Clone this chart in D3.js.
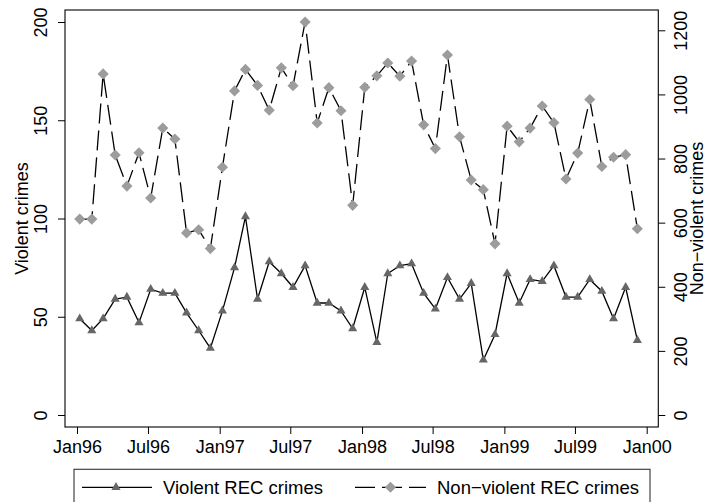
<!DOCTYPE html>
<html>
<head>
<meta charset="utf-8">
<script src="https://cdn.jsdelivr.net/npm/d3@7"></script>
<style>
  html, body { margin: 0; padding: 0; background: #fff; }
  svg { display: block; font-family: "Liberation Sans", Arial, Helvetica, sans-serif; }
</style>
</head>
<body>
<div id="chart"></div>
<script>
// ---- data (monthly, Jan 1996 – Dec 1999) ----
const violent = [49, 43, 49, 59, 60, 47, 64, 62, 62, 52, 43, 34,
                 53, 75, 101, 59, 78, 72, 65, 76, 57, 57, 53, 44,
                 65, 37, 72, 76, 77, 62, 54, 70, 59, 67, 28, 41,
                 72, 57, 69, 68, 76, 60, 60, 69, 63, 49, 65, 38];
const nonViolent = [611, 611, 1064, 811, 714, 818, 677, 895, 861, 568, 578, 519,
                    773, 1011, 1078, 1028, 951, 1083, 1027, 1226, 911, 1021, 949, 654,
                    1022, 1058, 1098, 1057, 1104, 905, 831, 1123, 868, 733, 703, 534,
                    901, 852, 895, 964, 912, 736, 817, 984, 775, 804, 812, 581];
const xTickLabels = ["Jan96", "Jul96", "Jan97", "Jul97", "Jan98", "Jul98", "Jan99", "Jul99", "Jan00"];
const leftTicks = [0, 50, 100, 150, 200];
const rightTicks = [0, 200, 400, 600, 800, 1000, 1200];
const seriesNames = ["Violent REC crimes", "Non\u2212violent REC crimes"];
const axisTitles = ["Violent crimes", "Non\u2212violent crimes"];

const dates = violent.map((_, i) => new Date(1996, i, 8));
const tickDates = xTickLabels.map((_, i) => new Date(1996, i * 6, 1));

const W = 707, H = 502;
const frame = { left: 65, right: 658.3, top: 10, bottom: 427 };

const x = d3.scaleTime().domain([new Date(1996, 0, 1), new Date(2000, 0, 1)]).range([77, 646.7]);
const yL = d3.scaleLinear().domain([0, 200]).range([415, 22]);
const yR = d3.scaleLinear().domain([0, 1200]).range([415, 30.3]);

const svg = d3.select("#chart").append("svg").attr("width", W).attr("height", H);
svg.append("rect").attr("width", W).attr("height", H).attr("fill", "#fff");

const FS = 18;

// frame
svg.append("rect")
  .attr("x", frame.left).attr("y", frame.top)
  .attr("width", frame.right - frame.left).attr("height", frame.bottom - frame.top)
  .attr("fill", "none").attr("stroke", "#000").attr("stroke-width", 1.1);

// left axis
const gL = svg.append("g").attr("transform", `translate(${frame.left},0)`)
  .call(d3.axisLeft(yL).tickValues(leftTicks).tickSize(7).tickFormat(d3.format("d")));
gL.select(".domain").remove();
gL.selectAll("line").attr("stroke", "#000").attr("stroke-width", 1);
gL.selectAll("text").attr("transform", "rotate(-90)").attr("x", 0).attr("y", -18)
  .attr("dy", null).attr("text-anchor", "middle").attr("font-size", FS)
  .attr("font-family", null).attr("fill", "#000");

// right axis
const gR = svg.append("g").attr("transform", `translate(${frame.right},0)`)
  .call(d3.axisRight(yR).tickValues(rightTicks).tickSize(7).tickFormat(d3.format("d")));
gR.select(".domain").remove();
gR.selectAll("line").attr("stroke", "#000").attr("stroke-width", 1);
gR.selectAll("text").attr("transform", "rotate(-90)").attr("x", 0).attr("y", 28.5)
  .attr("dy", null).attr("text-anchor", "middle").attr("font-size", FS)
  .attr("font-family", null).attr("fill", "#000");

// bottom axis
const gB = svg.append("g").attr("transform", `translate(0,${frame.bottom})`)
  .call(d3.axisBottom(x).tickValues(tickDates).tickSize(7).tickFormat((d, i) => xTickLabels[i]));
gB.select(".domain").remove();
gB.selectAll("line").attr("stroke", "#000").attr("stroke-width", 1);
gB.selectAll("text").attr("y", 26).attr("dy", null).attr("font-size", FS)
  .attr("font-family", null).attr("fill", "#000");

// axis titles
const midY = (frame.top + frame.bottom) / 2;
svg.append("text").attr("transform", `translate(28,${midY}) rotate(-90)`)
  .attr("text-anchor", "middle").attr("font-size", FS).text(axisTitles[0]);
svg.append("text").attr("transform", `translate(703,${midY}) rotate(-90)`)
  .attr("text-anchor", "middle").attr("font-size", FS).text(axisTitles[1]);

// symbols
const tri = d3.symbol().type(d3.symbolTriangle).size(36);
const dia = d3.symbol().type(d3.symbolSquare).size(62);
const triColor = "#666666", diaColor = "#9c9c9c";
const dash = "20,7";

// violent series
const lineL = d3.line().x((d, i) => x(dates[i])).y(d => yL(d));
svg.append("path").datum(violent).attr("d", lineL)
  .attr("fill", "none").attr("stroke", "#000").attr("stroke-width", 1.3);
svg.append("g").selectAll("path").data(violent).join("path")
  .attr("d", tri).attr("fill", triColor)
  .attr("transform", (d, i) => `translate(${x(dates[i])},${yL(d)})`);

// non-violent series
const lineR = d3.line().x((d, i) => x(dates[i])).y(d => yR(d));
svg.append("path").datum(nonViolent).attr("d", lineR)
  .attr("fill", "none").attr("stroke", "#000").attr("stroke-width", 1.3)
  .attr("stroke-dasharray", dash);
svg.append("g").selectAll("path").data(nonViolent).join("path")
  .attr("d", dia).attr("fill", diaColor)
  .attr("transform", (d, i) => `translate(${x(dates[i])},${yR(d)}) rotate(45)`);

// legend
const lg = svg.append("g");
lg.append("rect").attr("x", 74).attr("y", 469.3).attr("width", 576).attr("height", 60)
  .attr("fill", "#fff").attr("stroke", "#333").attr("stroke-width", 1.1);
const ly = 487.3;
lg.append("line").attr("x1", 82).attr("x2", 152).attr("y1", ly).attr("y2", ly)
  .attr("stroke", "#000").attr("stroke-width", 1.3);
lg.append("path").attr("d", tri).attr("fill", triColor).attr("transform", `translate(116,${ly})`);
lg.append("text").attr("x", 163).attr("y", ly + 6.3).attr("font-size", 18.5).text(seriesNames[0]);

lg.append("line").attr("x1", 355).attr("x2", 426).attr("y1", ly).attr("y2", ly)
  .attr("stroke", "#000").attr("stroke-width", 1.3).attr("stroke-dasharray", dash);
lg.append("path").attr("d", dia).attr("fill", diaColor).attr("transform", `translate(390.5,${ly}) rotate(45)`);
lg.append("text").attr("x", 437).attr("y", ly + 6.3).attr("font-size", 18.5).text(seriesNames[1]);
</script>
</body>
</html>
